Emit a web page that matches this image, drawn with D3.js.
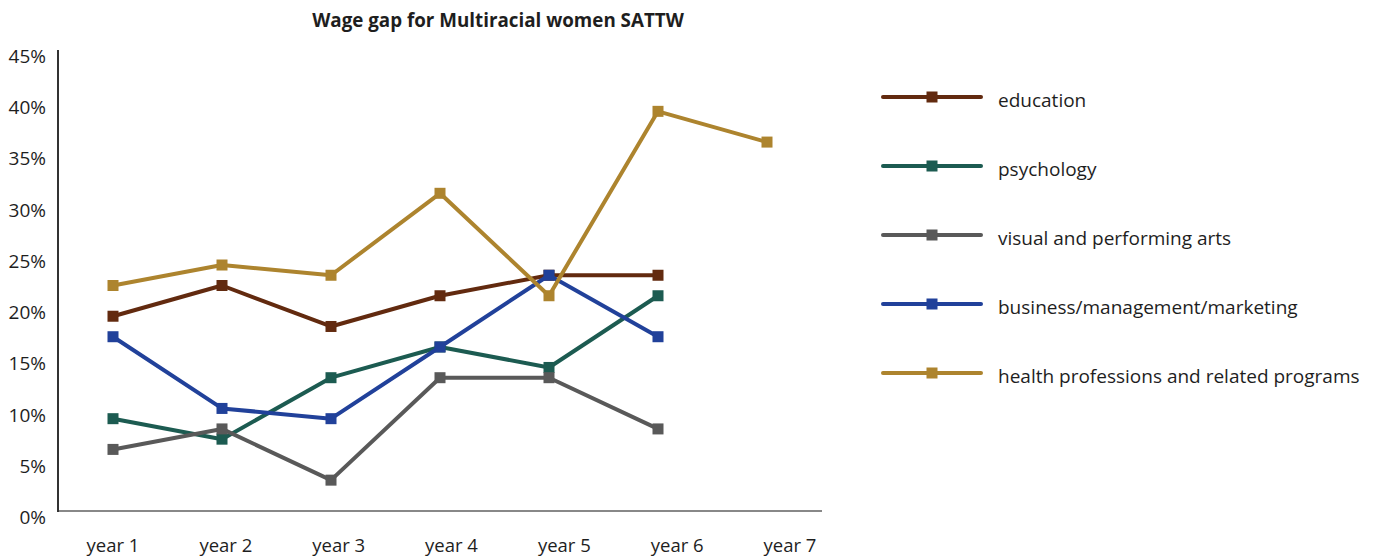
<!DOCTYPE html>
<html>
<head>
<meta charset="utf-8">
<script src="https://cdn.jsdelivr.net/npm/d3@7/dist/d3.min.js"></script>
<style>
  html, body { margin: 0; padding: 0; background: #ffffff; }
  svg { display: block; font-family: "Open Sans", "Noto Sans", sans-serif; }
</style>
</head>
<body>
<svg id="chart" width="1375" height="557"></svg>
<script>
// Chart data
const years = ["year 1", "year 2", "year 3", "year 4", "year 5", "year 6", "year 7"];
const yTicks = [0, 5, 10, 15, 20, 25, 30, 35, 40, 45];
const seriesNames = [
  "education",
  "psychology",
  "visual and performing arts",
  "business/management/marketing",
  "health professions and related programs"
];
const seriesColors = ["#622a0f", "#1c5b51", "#595959", "#21419a", "#ad842e"];
const education   = [19.5, 22.5, 18.5, 21.5, 23.5, 23.5, null];
const psychology  = [9.5, 7.5, 13.5, 16.5, 14.5, 21.5, null];
const visualArts  = [6.5, 8.5, 3.5, 13.5, 13.5, 8.5, null];
const business    = [17.5, 10.5, 9.5, 16.5, 23.5, 17.5, null];
const health      = [22.5, 24.5, 23.5, 31.5, 21.5, 39.5, 36.5];
const seriesValues = [education, psychology, visualArts, business, health];

const svg = d3.select("#chart");

const x = d3.scalePoint().domain(years).range([113, 767]);
const xLabel = d3.scalePoint().domain(years).range([113, 790]);
const y = d3.scaleLinear().domain([0, 45]).range([516, 55]);

// Title
svg.append("text")
  .attr("x", 498).attr("y", 20)
  .attr("text-anchor", "middle").attr("dominant-baseline", "central")
  .attr("font-size", 18.8).attr("font-weight", 700).attr("fill", "#1e1e1e")
  .text("Wage gap for Multiracial women SATTW");

// Axes
const baseY = y(0) - 5;
svg.append("line")
  .attr("x1", 58).attr("x2", 822).attr("y1", baseY).attr("y2", baseY)
  .attr("stroke", "#888").attr("stroke-width", 2);
svg.append("line")
  .attr("x1", 58).attr("x2", 58).attr("y1", 50).attr("y2", baseY + 1)
  .attr("stroke", "#333").attr("stroke-width", 2);

svg.append("g").selectAll("text").data(yTicks).join("text")
  .attr("x", 46).attr("y", d => y(d) + 1)
  .attr("text-anchor", "end").attr("dominant-baseline", "central")
  .attr("font-size", 19).attr("fill", "#1e1e1e")
  .text(d => d + "%");

svg.append("g").selectAll("text").data(years).join("text")
  .attr("x", d => xLabel(d)).attr("y", 544)
  .attr("text-anchor", "middle").attr("dominant-baseline", "central")
  .attr("font-size", 18.5).attr("fill", "#1e1e1e")
  .text(d => d);

// Series lines and markers
const line = d3.line()
  .defined(d => d.v != null)
  .x(d => x(d.year)).y(d => y(d.v));

seriesValues.forEach((vals, i) => {
  const pts = vals.map((v, j) => ({ year: years[j], v }));
  const g = svg.append("g");
  g.append("path")
    .datum(pts)
    .attr("d", line)
    .attr("fill", "none")
    .attr("stroke", seriesColors[i])
    .attr("stroke-width", 4)
    .attr("stroke-linejoin", "round");
  g.selectAll("rect").data(pts.filter(d => d.v != null)).join("rect")
    .attr("x", d => x(d.year) - 5.5).attr("y", d => y(d.v) - 5.5)
    .attr("width", 11).attr("height", 11)
    .attr("fill", seriesColors[i]);
});

// Legend
const legend = svg.append("g").attr("transform", "translate(883,97)");
const rows = legend.selectAll("g").data(seriesNames).join("g")
  .attr("transform", (d, i) => `translate(0,${i * 69})`);
rows.append("line")
  .attr("x1", 0).attr("x2", 98).attr("y1", 0).attr("y2", 0)
  .attr("stroke", (d, i) => seriesColors[i]).attr("stroke-width", 4)
  .attr("stroke-linecap", "round");
rows.append("rect")
  .attr("x", 43.5).attr("y", -5.5).attr("width", 11).attr("height", 11)
  .attr("fill", (d, i) => seriesColors[i]);
rows.append("text")
  .attr("x", 115).attr("y", 3)
  .attr("dominant-baseline", "central")
  .attr("font-size", 19).attr("fill", "#1e1e1e")
  .text(d => d);
</script>
</body>
</html>
